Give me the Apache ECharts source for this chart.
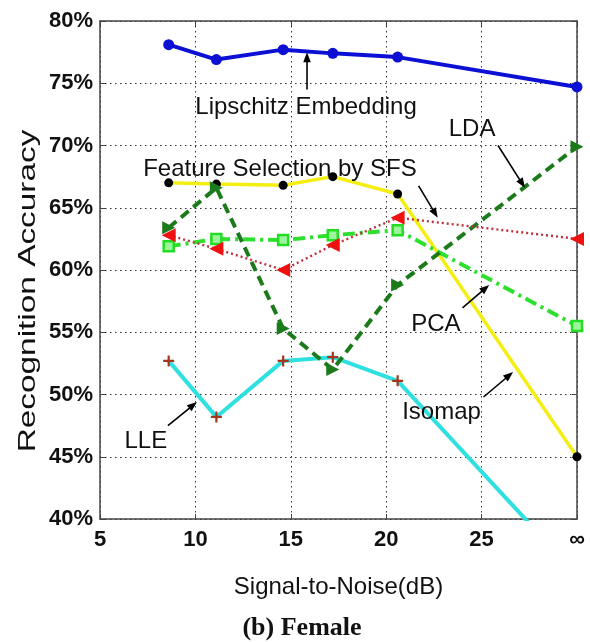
<!DOCTYPE html>
<html><head><meta charset="utf-8">
<script src="https://cdn.jsdelivr.net/npm/echarts@6/dist/echarts.min.js"></script>
<style>html,body{margin:0;padding:0;background:#fff}#c{width:590px;height:642px}</style>
</head><body><div id="c"></div>
<script>
// ---- data ----
const snr = [8.6, 11.1, 14.6, 17.2, 20.6, 30];          // 30 == ∞
const xTicks = ['5', '10', '15', '20', '25', '∞'];
const yTicks = ['40%', '45%', '50%', '55%', '60%', '65%', '70%', '75%', '80%'];
const lipschitz = [78.1, 76.9, 77.7, 77.4, 77.1, 74.7];
const isomap    = [67.0, 66.9, 66.8, 67.5, 66.1, 45.0];
const sfs       = [62.8, 61.7, 60.0, 62.0, 64.2, 62.5];
const lda       = [63.4, 66.6, 55.3, 52.0, 58.8, 69.9];
const pca       = [61.9, 62.5, 62.4, 62.8, 63.2, 55.5];
const lle       = [52.7, 48.2, 52.7, 53.0, 51.1, 35.5];

// annotations (data coordinates)
const annoText = ['Lipschitz Embedding', 'LDA', 'Feature Selection by SFS', 'PCA', 'Isomap', 'LLE'];
const annoTextAt = [[15.8, 73.1], [24.5, 71.3], [14.43, 68.1], [22.6, 55.6], [22.9, 48.6], [7.4, 46.2]];
const annoFrom = [[15.85, 74.5], [25.86, 70.0], [21.7, 66.75], [24.0, 56.95], [25.1, 49.8], [8.56, 47.5]];
const annoTo   = [[15.85, 77.5], [27.27, 66.6], [22.7, 64.2], [25.4, 58.8], [26.65, 51.8], [10.08, 49.4]];

const FONT = '"Liberation Sans", Arial, sans-serif';
const pts = arr => arr.map((v, i) => [snr[i], v]);

const chart = echarts.init(document.getElementById('c'), null, {renderer: 'canvas'});

const axisLine = {show: true, lineStyle: {color: '#444', width: 1.5}};
const tick = {show: true, inside: true, length: 5, lineStyle: {color: '#444', width: 1}};
const grid = {show: true, lineStyle: {color: '#333', width: 1, type: [1.5, 3.5]}};

const baseGraphic = [
  {type: 'text', x: 28, y: 291, rotation: Math.PI / 2, scaleX: 1.39,
    style: {text: 'Recognition Accuracy', font: '24px ' + FONT, fill: '#111', align: 'center', verticalAlign: 'middle'}},
  {type: 'text', x: 302, y: 628,
    style: {text: '(b) Female', font: 'bold 26px "Liberation Serif", "Times New Roman", serif', fill: '#111', align: 'center', verticalAlign: 'middle'}}
];

const option = {
  animation: false,
  backgroundColor: '#fff',
  grid: {left: 100, right: 13, top: 21, bottom: 123, containLabel: false},
  xAxis: [{
    type: 'value', min: 5, max: 30, interval: 5, position: 'bottom',
    axisLine, axisTick: tick, splitLine: grid,
    axisLabel: {formatter: v => xTicks[Math.round((v - 5) / 5)], fontFamily: FONT, fontWeight: 'bold',
      fontSize: 22, color: '#111', margin: 10},
    name: 'Signal-to-Noise(dB)', nameLocation: 'middle', nameGap: 56,
    nameTextStyle: {fontFamily: FONT, fontSize: 24, color: '#111'}
  }, {
    type: 'value', min: 5, max: 30, interval: 5, position: 'top',
    axisLine, axisTick: tick, axisLabel: {show: false}, splitLine: {show: false}
  }],
  yAxis: [{
    type: 'value', min: 40, max: 80, interval: 5, position: 'left',
    axisLine, axisTick: tick, splitLine: grid,
    axisLabel: {formatter: v => yTicks[Math.round((v - 40) / 5)], fontFamily: FONT, fontWeight: 'bold',
      fontSize: 22, color: '#111', margin: 7}
  }, {
    type: 'value', min: 40, max: 80, interval: 5, position: 'right',
    axisLine, axisTick: tick, axisLabel: {show: false}, splitLine: {show: false}
  }],
  graphic: baseGraphic,
  series: [
    {name: 'LLE', type: 'line', data: pts(lle), clip: true, z: 2,
      lineStyle: {color: '#2fe0e0', width: 4}, symbol: 'path://M4,0H6V4H10V6H6V10H4V6H0V4H4Z', symbolSize: 11,
      itemStyle: {color: '#a8341c'}},
    {name: 'Isomap', type: 'line', data: pts(isomap), z: 3,
      lineStyle: {color: '#f4ee12', width: 3.5}, symbol: 'circle', symbolSize: 9, itemStyle: {color: '#000'}},
    {name: 'PCA', type: 'line', data: pts(pca), z: 4,
      lineStyle: {color: '#2ee02e', width: 4, type: [12, 5, 3, 5]}, symbol: 'rect', symbolSize: 10,
      itemStyle: {color: '#9bf59b', borderColor: '#22dd22', borderWidth: 2.5}},
    {name: 'LDA', type: 'line', data: pts(lda), z: 5,
      lineStyle: {color: '#1b7b1b', width: 4, type: [10, 6]}, symbol: 'triangle', symbolRotate: -90, symbolSize: 13,
      itemStyle: {color: '#1b7b1b'}},
    {name: 'Feature Selection by SFS', type: 'line', data: pts(sfs), z: 6,
      lineStyle: {color: '#c0303c', width: 2.4, type: [2, 3]}, symbol: 'triangle', symbolRotate: 90, symbolSize: 14,
      itemStyle: {color: '#ee1111'}},
    {name: 'Lipschitz Embedding', type: 'line', data: pts(lipschitz), z: 7,
      lineStyle: {color: '#0c10d4', width: 4}, symbol: 'circle', symbolSize: 11, itemStyle: {color: '#0c10d4'}},
    {name: 'annotations', type: 'scatter', data: [], z: 10, silent: true,
      markPoint: {
        silent: true, symbol: 'circle', symbolSize: 0,
        label: {show: true, position: 'inside', fontFamily: FONT, fontSize: 24, color: '#111',
          formatter: p => p.name},
        data: annoText.map((t, i) => ({name: t, coord: annoTextAt[i]}))
      }
    }
  ]
};
chart.setOption(option);

// arrows: positioned from data coordinates through the chart's own scales
const arrows = [];
annoFrom.forEach((f, i) => {
  const a = chart.convertToPixel({xAxisIndex: 0, yAxisIndex: 0}, f);
  const b = chart.convertToPixel({xAxisIndex: 0, yAxisIndex: 0}, annoTo[i]);
  const dx = b[0] - a[0], dy = b[1] - a[1];
  const len = Math.hypot(dx, dy), ux = dx / len, uy = dy / len;
  const hl = 10, hw = 3.8;
  const bx = b[0] - ux * hl, by = b[1] - uy * hl;
  arrows.push({type: 'line', z: 20, shape: {x1: a[0], y1: a[1], x2: bx + ux * 2, y2: by + uy * 2},
    style: {stroke: '#000', lineWidth: 1.6}});
  arrows.push({type: 'polygon', z: 20, shape: {points: [[b[0], b[1]], [bx - uy * hw, by + ux * hw], [bx + uy * hw, by - ux * hw]]},
    style: {fill: '#000'}});
});
chart.setOption({graphic: baseGraphic.concat(arrows)});
</script>
</body></html>
